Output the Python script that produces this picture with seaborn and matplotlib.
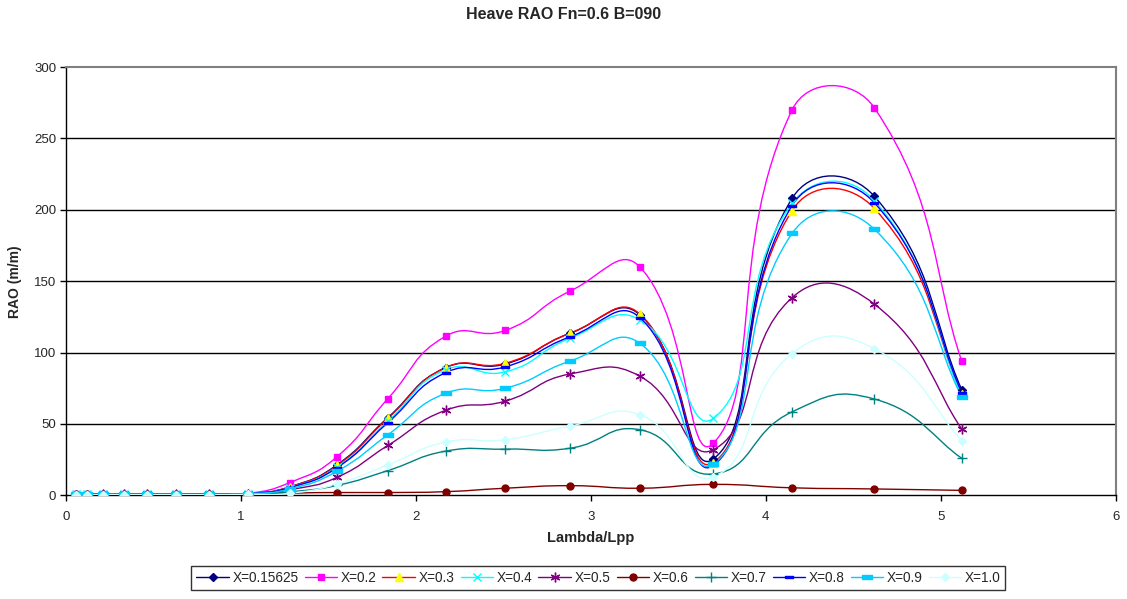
import numpy as np
import matplotlib
matplotlib.use("Agg")
import matplotlib.pyplot as plt
from matplotlib.path import Path
from matplotlib.patches import PathPatch
from matplotlib.lines import Line2D
import seaborn as sns

# Lambda/Lpp values (x)
lam = [0.055, 0.12, 0.21, 0.33, 0.46, 0.63, 0.82, 1.04, 1.28, 1.55,
       1.84, 2.17, 2.51, 2.88, 3.28, 3.70, 4.15, 4.62, 5.12]

# heave RAO per X position
x_0_15625 = [0.8, 0.8, 1, 1, 1, 1, 1, 1.2, 6, 21.5, 54.5, 89.5, 92, 113.5, 126.5, 25.5, 208, 209.5, 74]
x_0_2 = [0.8, 0.8, 1, 1, 1, 1, 1, 1.3, 9, 27.2, 67.8, 111.5, 115.5, 143, 160, 36.5, 270, 271.5, 94]
x_0_3 = [0.8, 0.8, 1, 1, 1, 1, 1, 1.2, 6, 21, 54, 89.5, 92.5, 113.5, 127, 23, 199.5, 201, 71]
x_0_4 = [0.8, 0.8, 1, 1, 1, 1, 1, 1.2, 5.5, 20, 52, 88, 86.5, 110, 123, 54, 204.5, 206.5, 70]
x_0_5 = [0.6, 0.6, 0.8, 0.8, 0.8, 0.8, 0.8, 1, 4, 12.7, 35, 59.6, 66, 85, 83.5, 32, 138.5, 134, 46.5]
x_0_6 = [0.2, 0.2, 0.3, 0.3, 0.3, 0.3, 0.3, 0.4, 1.5, 2, 2, 2.6, 5, 6.8, 5, 7.7, 5.3, 4.5, 3.5]
x_0_7 = [0.5, 0.5, 0.6, 0.6, 0.6, 0.6, 0.6, 0.8, 2.5, 7, 17.4, 31, 32.4, 33, 46, 15, 58.5, 67.5, 26]
x_0_8 = [0.8, 0.8, 1, 1, 1, 1, 1, 1.2, 5.5, 19.5, 51, 86, 90, 111, 124.5, 21, 203, 205, 72]
x_0_9 = [0.7, 0.7, 0.9, 0.9, 0.9, 0.9, 0.9, 1.1, 4.5, 17, 42.5, 71.5, 75, 94, 106.5, 22, 183.5, 186.5, 69]
x_1_0 = [0.4, 0.4, 0.5, 0.5, 0.5, 0.5, 0.5, 0.7, 1.5, 8, 21.4, 37.3, 39, 48.5, 56.5, 13, 99.3, 102.8, 38.3]

labels = ["X=0.15625", "X=0.2", "X=0.3", "X=0.4", "X=0.5",
          "X=0.6", "X=0.7", "X=0.8", "X=0.9", "X=1.0"]
series = [x_0_15625, x_0_2, x_0_3, x_0_4, x_0_5, x_0_6, x_0_7, x_0_8, x_0_9, x_1_0]

dash = [(-1, -0.35), (1, -0.35), (1, 0.35), (-1, 0.35), (-1, -0.35)]
# line colour, marker, marker face, marker edge, marker size
styles = [
    ("#000080", "D", "#000080", "#000080", 4.5),
    ("#FF00FF", "s", "#FF00FF", "#FF00FF", 5),
    ("#FF0000", "^", "#FFFF00", "#FFFF00", 5.5),
    ("#00FFFF", "x", "#00FFFF", "#00FFFF", 6),
    ("#800080", (6, 2, 0), "#800080", "#800080", 7),
    ("#800000", "o", "#800000", "#800000", 5),
    ("#008080", "+", "#008080", "#008080", 7),
    ("#0000FF", dash, "#0000FF", "#0000FF", 6),
    ("#00CCFF", dash, "#00CCFF", "#00CCFF", 7),
    ("#CCFFFF", "D", "#CCFFFF", "#CCFFFF", 4.5),
]

SX, SY = 175.0, 1.427  # pixels per data unit, for the smoothing


def smooth_path(xs, ys):
    # Excel-like smoothed line: cubic Bezier through every point
    pts = np.column_stack([xs, ys]).astype(float)
    px = pts * np.array([SX, SY])
    n = len(pts)
    verts = [pts[0]]
    codes = [Path.MOVETO]
    for i in range(n - 1):
        i0, i3 = max(i - 1, 0), min(i + 2, n - 1)
        d01 = np.hypot(*(px[i] - px[i0]))
        d12 = np.hypot(*(px[i + 1] - px[i]))
        d23 = np.hypot(*(px[i3] - px[i + 1]))
        k1 = 0.5 * d12 / (d01 + d12) if d01 > 0 else 1 / 3
        k2 = 0.5 * d12 / (d12 + d23) if d23 > 0 else 1 / 3
        c1 = pts[i] + (pts[i + 1] - pts[i0]) * k1
        c2 = pts[i + 1] - (pts[i3] - pts[i]) * k2
        verts += [c1, c2, pts[i + 1]]
        codes += [Path.CURVE4] * 3
    return Path(verts, codes)


sns.set_style("white")
plt.rcParams["font.family"] = ["Liberation Sans", "DejaVu Sans"]

fig = plt.figure(figsize=(11.27, 5.99), dpi=100)
ax = fig.add_axes([0.0586, 0.173, 0.9314, 0.715])

handles = []
for vals, lab, (lc, mk, mf, me, ms) in zip(series, labels, styles):
    ax.add_patch(PathPatch(smooth_path(lam, vals), fill=False, edgecolor=lc,
                           lw=1.0, zorder=3))
    sns.lineplot(x=lam, y=vals, ax=ax, linestyle="", marker=mk,
                 markersize=ms, markerfacecolor=mf, markeredgecolor=me,
                 markeredgewidth=1.0, color=lc, zorder=4)
    handles.append(Line2D([], [], color=lc, lw=1.0, marker=mk, markersize=ms,
                          markerfacecolor=mf, markeredgecolor=me, markeredgewidth=1.0))

ax.set_xlim(0, 6)
ax.set_ylim(0, 300)
ax.set_xticks(range(0, 7))
ax.set_yticks(range(0, 301, 50))
for yv in range(50, 300, 50):
    ax.axhline(yv, color="black", lw=1.0, zorder=1)

for s in ["left", "bottom"]:
    ax.spines[s].set_color("black")
    ax.spines[s].set_linewidth(1.0)
for s in ["top", "right"]:
    ax.spines[s].set_color("#808080")
    ax.spines[s].set_linewidth(1.5)
ax.tick_params(axis="both", direction="out", length=4, width=1, color="black",
               labelsize=9.5, bottom=True, left=True)
ax.tick_params(axis="x", pad=7)
ax.tick_params(axis="y", pad=3)

ax.set_xlabel("Lambda/Lpp", fontsize=10.5, fontweight="bold", labelpad=6)
ax.set_ylabel("RAO (m/m)", fontsize=10, fontweight="bold", labelpad=9)
fig.suptitle("Heave RAO Fn=0.6 B=090", fontsize=11.5, fontweight="bold",
             x=0.500, y=0.988)

leg = fig.legend(handles, labels, loc="center", bbox_to_anchor=(0.531, 0.035),
                 ncol=10, fontsize=9.8, frameon=True, fancybox=False,
                 edgecolor="black", handlelength=2.4, columnspacing=0.45,
                 handletextpad=0.25, borderpad=0.35)
leg.get_frame().set_linewidth(1.0)

fig.savefig("out.png", dpi=100)
